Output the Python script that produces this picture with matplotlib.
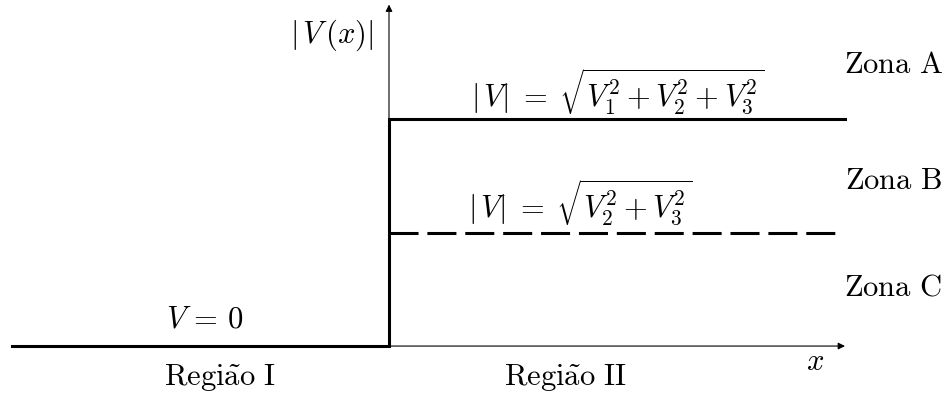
import matplotlib.pyplot as plt

plt.rcParams["mathtext.fontset"] = "cm"

# step potential data (x in diagram units, boundary at x=0)
x_left, x_step, x_right = -3.77, 0.0, 4.56
x_dash_end = 4.46
v_region_I = 0.0
v_full = 1.0      # |V| = sqrt(V1^2 + V2^2 + V3^2)
v_partial = 0.5   # |V| = sqrt(V2^2 + V3^2)

fig = plt.figure(figsize=(9.49, 3.96), dpi=100)
ax = fig.add_axes([0, 0, 1, 1])
ax.set_xlim(-3.89, 5.60)
ax.set_ylim(-0.220, 1.524)
ax.axis("off")

# axes with arrows
ax.annotate("", xy=(4.56, 0), xytext=(x_step, 0),
            arrowprops=dict(arrowstyle="-|>", lw=0.8, color="black",
                            mutation_scale=10, shrinkA=0, shrinkB=0))
ax.annotate("", xy=(x_step, 1.504), xytext=(x_step, 0),
            arrowprops=dict(arrowstyle="-|>", lw=0.8, color="black",
                            mutation_scale=10, shrinkA=0, shrinkB=0))

# potential profile
ax.plot([x_left, x_step, x_step, x_right],
        [v_region_I, v_region_I, v_full, v_full],
        color="black", lw=2.2, solid_joinstyle="miter")
ax.plot([x_step, x_dash_end], [v_partial, v_partial],
        color="black", lw=2.2, linestyle=(0, (9.5, 2.9)))

fs = 22
ax.text(-0.16, 1.37, r"$|\,V\,(x)|$", fontsize=fs, ha="right", va="center")
ax.text(2.29, 1.12, r"$|\,V|\;=\;\sqrt{V_1^2 + V_2^2 + V_3^2}$", fontsize=fs,
        ha="center", va="center")
ax.text(1.91, 0.63, r"$|\,V|\;=\;\sqrt{V_2^2 + V_3^2}$", fontsize=fs,
        ha="center", va="center")
ax.text(-1.84, 0.12, r"$V\,=\,0$", fontsize=fs, ha="center", va="center")
ax.text(-1.69, -0.14, r"$\mathrm{Regi\tilde{a}o\ I}$", fontsize=fs,
        ha="center", va="center")
ax.text(1.76, -0.14, r"$\mathrm{Regi\tilde{a}o\ II}$", fontsize=fs,
        ha="center", va="center")
ax.text(4.26, -0.07, r"$x$", fontsize=fs, ha="center", va="center")

for label, y in [("A", 1.238), ("B", 0.731), ("C", 0.26)]:
    ax.text(5.04, y, r"$\mathrm{Zona\ %s}$" % label, fontsize=fs,
            ha="center", va="center")

plt.savefig("out.png", dpi=100)
